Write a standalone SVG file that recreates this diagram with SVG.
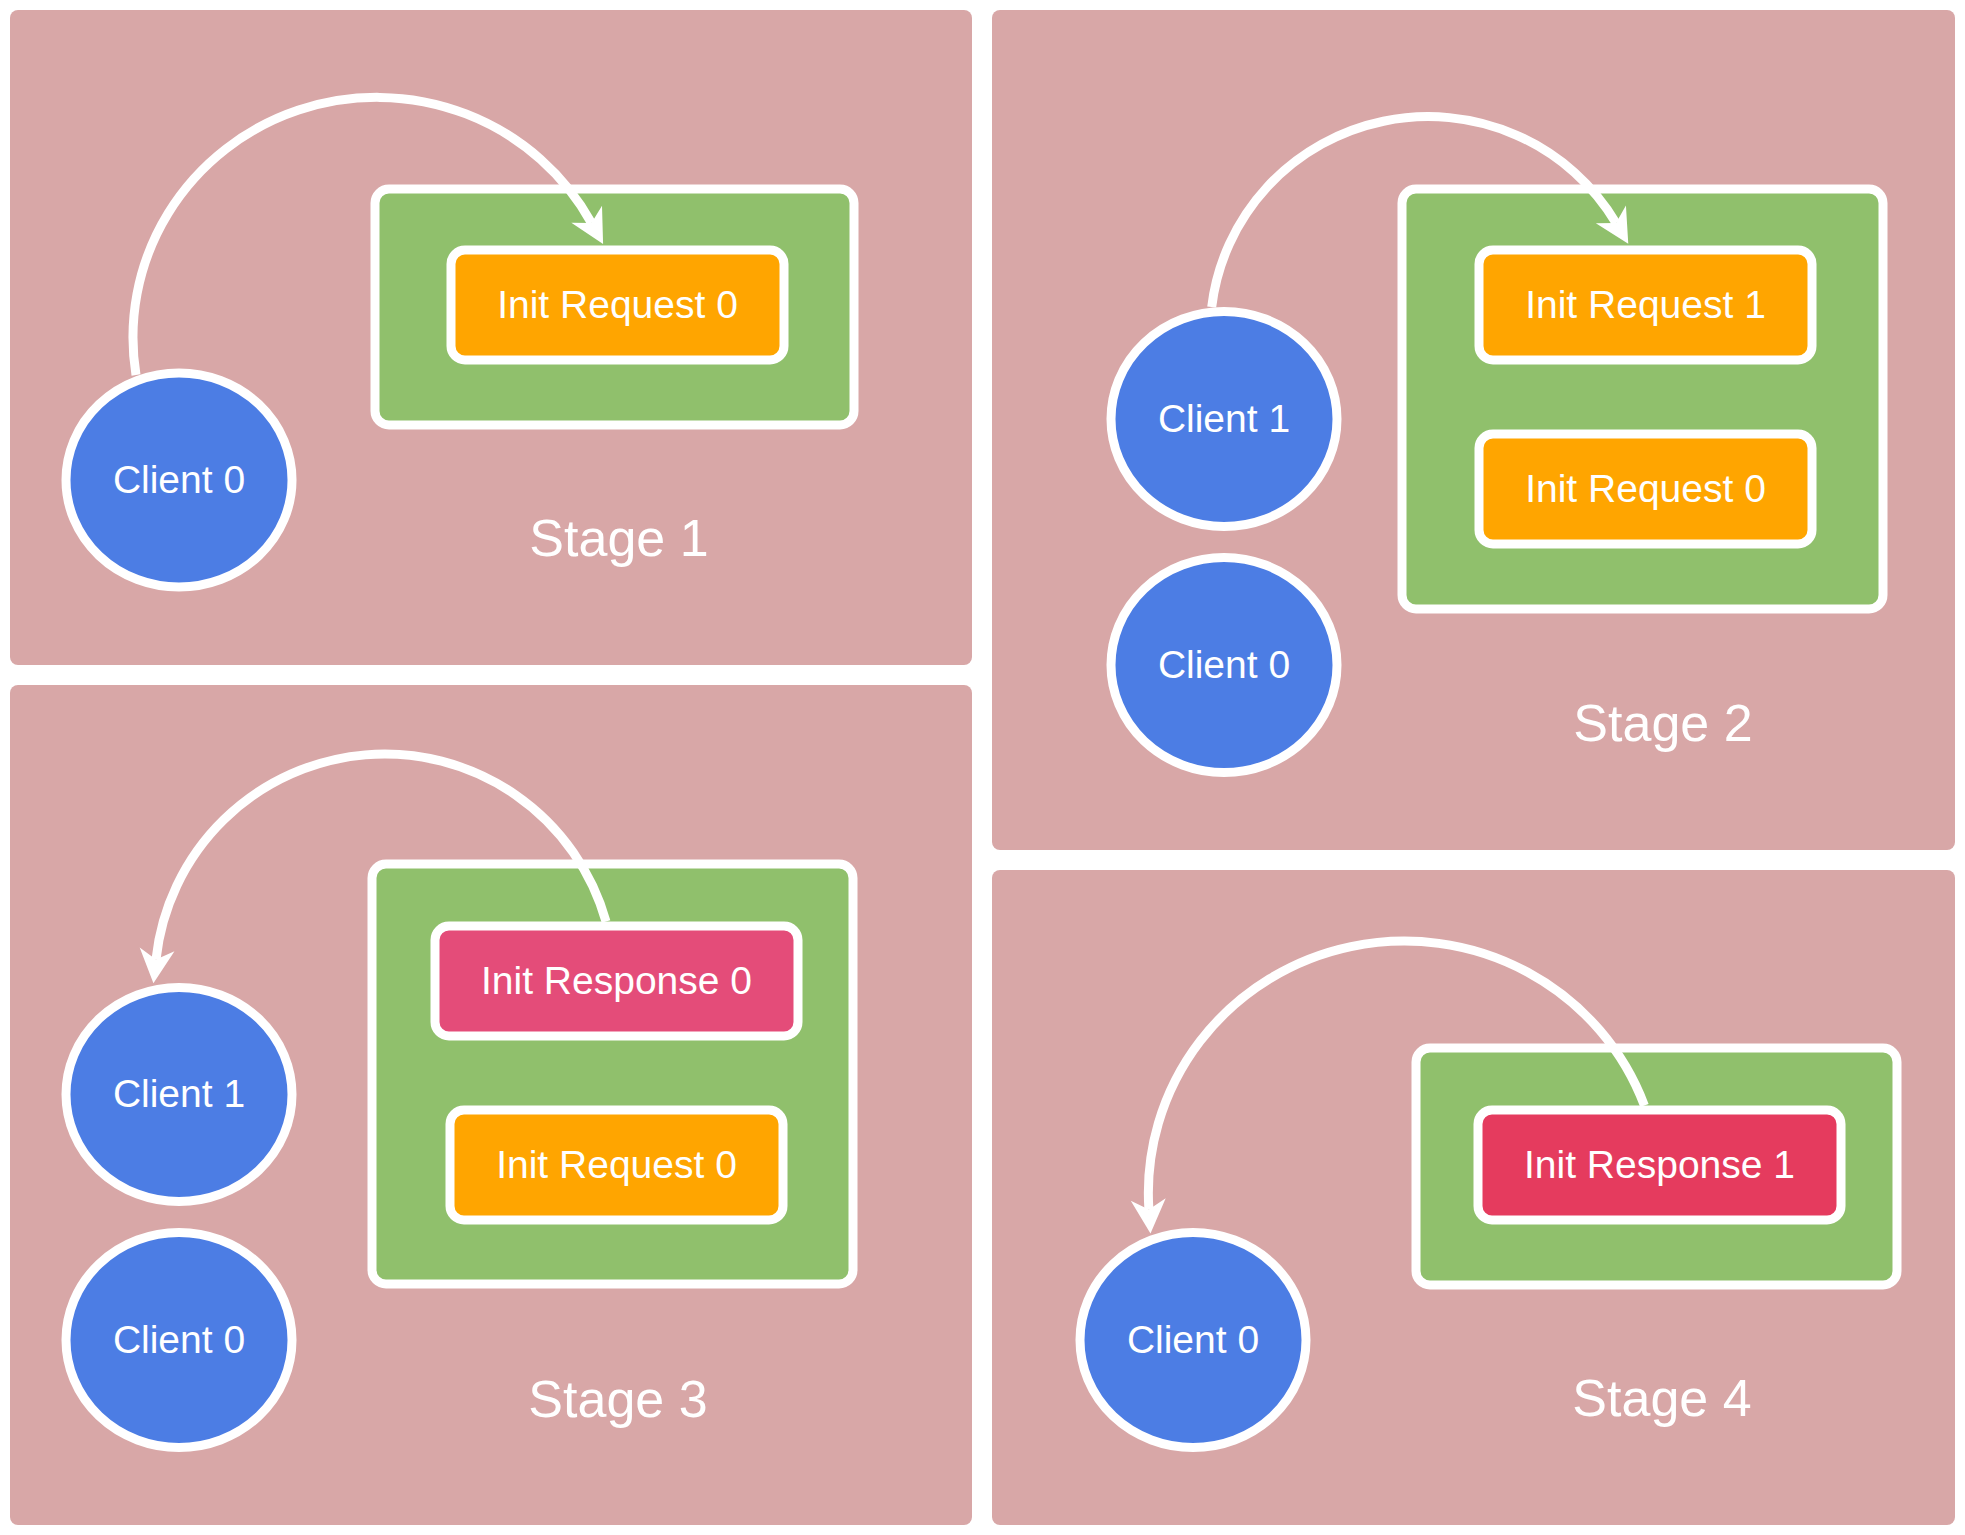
<svg xmlns="http://www.w3.org/2000/svg" width="1965" height="1535" viewBox="0 0 1965 1535">
<defs>
<style>
.panel{fill:#D8A7A7;}
.box{fill:#90C06C;stroke:#FFFFFF;stroke-width:9;}
.req{fill:#FFA500;stroke:#FFFFFF;stroke-width:9;}
.resp0{fill:#E44C79;stroke:#FFFFFF;stroke-width:9;}
.resp1{fill:#E53B5E;stroke:#FFFFFF;stroke-width:9;}
.client{fill:#4C7DE4;stroke:#FFFFFF;stroke-width:9;}
.lbl{font-family:"Liberation Sans",Arial,Helvetica,sans-serif;font-size:39px;fill:#FFFFFF;text-anchor:middle;}
.stage{font-family:"Liberation Sans",Arial,Helvetica,sans-serif;font-size:52px;fill:#FFFFFF;text-anchor:middle;}
.edge{fill:none;stroke:#FFFFFF;stroke-width:9;marker-end:url(#arrow);}
</style>
<marker id="arrow" markerUnits="userSpaceOnUse" viewBox="-12 -20 40 40" markerWidth="40" markerHeight="40" refX="0" refY="0" orient="auto" overflow="visible">
<path d="M24,0 L-10,-17.5 L0,0 L-10,17.5 Z" fill="#FFFFFF"/>
</marker>
</defs>
<rect width="1965" height="1535" fill="#FFFFFF"/>

<g id="panel1"><rect class="panel" x="10" y="10" width="962" height="655" rx="8"/><text class="stage" x="619" y="556">Stage 1</text></g>
<g id="panel2"><rect class="panel" x="992" y="10" width="963" height="840" rx="8"/><text class="stage" x="1663" y="741">Stage 2</text></g>
<g id="panel3"><rect class="panel" x="10" y="685" width="962" height="840" rx="8"/><text class="stage" x="618" y="1417">Stage 3</text></g>
<g id="panel4"><rect class="panel" x="992" y="870" width="963" height="655" rx="8"/><text class="stage" x="1662" y="1416">Stage 4</text></g>

<!-- Stage 1 -->
<g id="s1-queue"><rect class="box" x="375" y="189" width="479" height="236" rx="14"/></g>
<g id="s1-req0"><rect class="req" x="451" y="250" width="333" height="110" rx="14"/><text class="lbl" x="617.5" y="318">Init Request 0</text></g>
<g id="s1-client0"><ellipse class="client" cx="179" cy="480" rx="113" ry="107"/><text class="lbl" x="179" y="493">Client 0</text></g>

<!-- Stage 2 -->
<g id="s2-queue"><rect class="box" x="1402" y="189" width="481" height="420" rx="14"/></g>
<g id="s2-req1"><rect class="req" x="1479" y="250" width="333" height="110" rx="14"/><text class="lbl" x="1645.5" y="318">Init Request 1</text></g>
<g id="s2-req0"><rect class="req" x="1479" y="434" width="333" height="110" rx="14"/><text class="lbl" x="1645.5" y="502">Init Request 0</text></g>
<g id="s2-client1"><ellipse class="client" cx="1224" cy="419" rx="113" ry="107.5"/><text class="lbl" x="1224" y="432">Client 1</text></g>
<g id="s2-client0"><ellipse class="client" cx="1224" cy="665" rx="113" ry="107.5"/><text class="lbl" x="1224" y="678">Client 0</text></g>

<!-- Stage 3 -->
<g id="s3-queue"><rect class="box" x="372" y="864" width="481" height="420" rx="14"/></g>
<g id="s3-resp0"><rect class="resp0" x="435" y="926" width="363" height="110" rx="14"/><text class="lbl" x="616.5" y="994">Init Response 0</text></g>
<g id="s3-req0"><rect class="req" x="450" y="1110" width="333" height="110" rx="14"/><text class="lbl" x="616.5" y="1178">Init Request 0</text></g>
<g id="s3-client1"><ellipse class="client" cx="179" cy="1094.5" rx="113" ry="107"/><text class="lbl" x="179" y="1107">Client 1</text></g>
<g id="s3-client0"><ellipse class="client" cx="179" cy="1340" rx="113" ry="107.5"/><text class="lbl" x="179" y="1353">Client 0</text></g>

<!-- Stage 4 -->
<g id="s4-queue"><rect class="box" x="1416" y="1048" width="481" height="237" rx="14"/></g>
<g id="s4-resp1"><rect class="resp1" x="1478" y="1110" width="363" height="110" rx="14"/><text class="lbl" x="1659.5" y="1178">Init Response 1</text></g>
<g id="s4-client0"><ellipse class="client" cx="1193" cy="1340" rx="113" ry="107.5"/><text class="lbl" x="1193" y="1353">Client 0</text></g>

<g id="connectors">
<path class="edge" d="M136,375 A244,240 0 0 1 591.5,223"/>
<path class="edge" d="M1211.7,307 A218,216 0 0 1 1616,223"/>
<path class="edge" d="M606,921.5 A230,230 0 0 0 156,959.4"/>
<path class="edge" d="M1644.4,1105.5 A256,252 0 0 0 1148.9,1209.5"/>
</g>
</svg>
